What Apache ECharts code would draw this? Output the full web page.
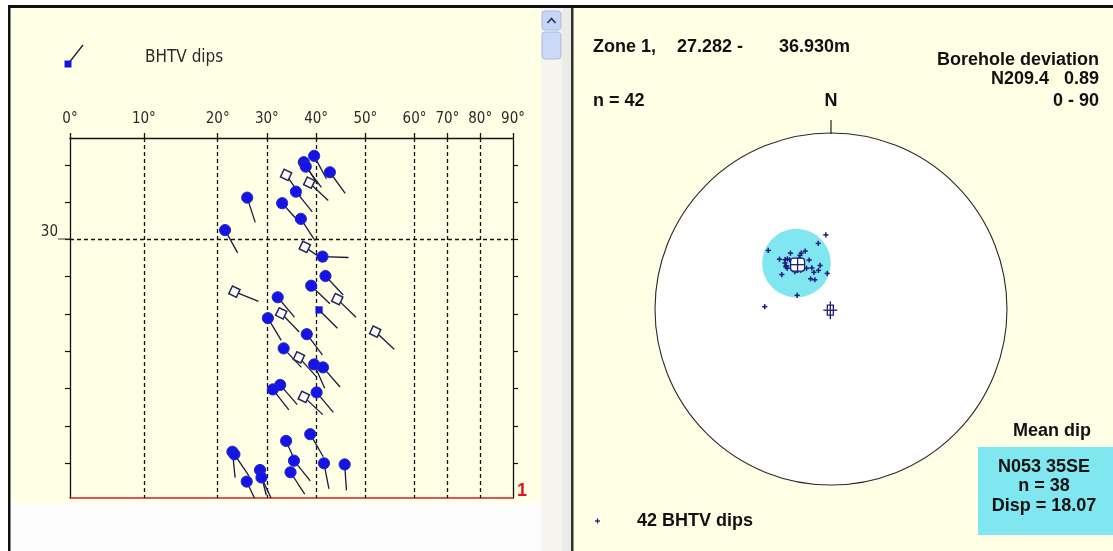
<!DOCTYPE html>
<html>
<head>
<meta charset="utf-8">
<script src="https://cdn.jsdelivr.net/npm/echarts@6/dist/echarts.min.js"></script>
<style>
  html, body { margin: 0; padding: 0; background: #ffffff; }
  #main { width: 1113px; height: 551px; }
</style>
</head>
<body>
<div id="main"></div>
<script>
// Zone 1 BHTV picks: depth (m), dip (deg), dip azimuth (deg), pick type
const depths = [
  27.76, 27.93, 28.05, 28.20, 28.27, 28.48, 28.72, 28.88, 29.03, 29.45,
  29.75, 30.20, 30.46, 30.98, 31.24, 31.40, 31.55, 31.60, 31.89, 31.98,
  32.11, 32.47, 32.54, 32.92, 33.16, 33.35, 33.43, 33.90, 34.02, 34.10,
  34.22, 35.22, 35.40, 35.69, 35.76, 35.93, 36.00, 36.03, 36.18, 36.24,
  36.38, 36.49
];
const dips = [
  39.6, 37.5, 37.9, 42.8, 33.9, 38.6, 35.9, 26.0, 33.1, 36.9,
  21.5, 37.7, 41.3, 41.9, 39.0, 23.4, 32.2, 44.3, 40.6, 32.9,
  30.2, 52.0, 38.1, 33.4, 36.5, 39.6, 41.4, 32.7, 31.2, 40.1,
  37.5, 38.8, 33.9, 23.0, 23.4, 35.5, 41.6, 45.8, 28.6, 34.8,
  28.9, 25.9
];
const dipAzimuths = [
  152, 148, 143, 144, 145, 133, 141, 162, 138, 147,
  151, 125, 92, 137, 134, 112, 140, 134, 135, 136,
  149, 133, 143, 137, 138, 156, 139, 139, 142, 140,
  133, 150, 156, 174, 146, 141, 169, 176, 166, 147,
  155, 155
];
// 0 = solid pick, 1 = open pick, 2 = square pick
const pickTypes = [
  0, 0, 0, 0, 1, 1, 0, 0, 0, 0,
  0, 1, 0, 0, 0, 1, 0, 1, 2, 1,
  0, 1, 0, 0, 1, 0, 0, 0, 0, 0,
  1, 0, 0, 0, 0, 0, 0, 0, 0, 0,
  0, 0
];

// Dip axis: every 10 deg step, with its place on the stretched dip scale
const dipTicks = [0, 10, 20, 30, 40, 50, 60, 70, 80, 90];
const dipTickLabels = ['0°', '10°', '20°', '30°', '40°', '50°', '60°', '70°', '80°', '90°'];
const dipScaleUnits = [0, 9, 18, 24, 30, 36, 42, 46, 50, 54];
const depthTicks = [28, 29, 30, 31, 32, 33, 34, 35, 36];
const depthLabels = [30];
const zoneTop = 27.282;
const zoneBottom = 36.930;

// Stereonet statistics
const meanStrike = 53;
const meanDip = 35;
const meanDipDirection = 143;
const boreholeAzimuth = 209.4;
const boreholeInclination = 0.89;
const coneAngle = 20;

const TAIL = 26;
const rad = d => d * Math.PI / 180;
const deg = r => r * 180 / Math.PI;

function dipToUnit(d) {
  const i = Math.max(0, Math.min(8, Math.floor(d / 10)));
  return dipScaleUnits[i] + (d - dipTicks[i]) / 10 * (dipScaleUnits[i + 1] - dipScaleUnits[i]);
}

// lower-hemisphere line -> [equal-angle radius, trend]
function lineVector(trend, plunge) {
  const t = rad(trend), p = rad(plunge);
  return [Math.cos(p) * Math.cos(t), Math.cos(p) * Math.sin(t), Math.sin(p)];
}
function toNet(v) {
  let [n, e, d] = v;
  if (d < 0) { n = -n; e = -e; d = -d; }
  const plunge = Math.asin(Math.min(1, d));
  const trend = (deg(Math.atan2(e, n)) + 360) % 360;
  return [Math.tan((Math.PI / 2 - plunge) / 2), trend];
}
function poleOf(dip, dipDir) {
  return toNet(lineVector((dipDir + 180) % 360, 90 - dip));
}
function smallCircle(axisV, alpha, steps) {
  const a = axisV;
  let u = [a[1], -a[0], 0];
  const lu = Math.hypot(u[0], u[1], u[2]) || 1;
  u = u.map(x => x / lu);
  const v = [a[1] * u[2] - a[2] * u[1], a[2] * u[0] - a[0] * u[2], a[0] * u[1] - a[1] * u[0]];
  const ca = Math.cos(rad(alpha)), sa = Math.sin(rad(alpha));
  const pts = [];
  for (let k = 0; k <= steps; k++) {
    const t = 2 * Math.PI * k / steps;
    pts.push(toNet([0, 1, 2].map(j => ca * a[j] + sa * (Math.cos(t) * u[j] + Math.sin(t) * v[j]))));
  }
  return pts;
}

const tadpoleData = depths.map((d, i) => [dipToUnit(dips[i]), d, dipAzimuths[i], pickTypes[i]]);
const poleData = depths.map((d, i) => poleOf(dips[i], dipAzimuths[i]));
const meanPole = poleOf(meanDip, meanDipDirection);
const conePoints = smallCircle(lineVector((meanDipDirection + 180) % 360, 90 - meanDip), coneAngle, 90);
const boreholePoint = toNet(lineVector(boreholeAzimuth, 90 - boreholeInclination));

const INK = '#1b1b3c';
const BLUE = '#1414e6';
const NAVY = '#1e1e7a';
const CREAM = '#ffffe6';
const CYAN = '#80e6f0';
const labelFont = '"Liberation Sans Narrow", "DejaVu Sans Condensed", "Liberation Sans", sans-serif';
const boldFont = '"Liberation Sans", Arial, sans-serif';

function renderTadpole(params, api) {
  const p = api.coord([api.value(0), api.value(1)]);
  const a = rad(api.value(2));
  const end = [p[0] + TAIL * Math.sin(a), p[1] - TAIL * Math.cos(a)];
  const kind = api.value(3);
  const children = [{
    type: 'line',
    shape: { x1: p[0], y1: p[1], x2: end[0], y2: end[1] },
    style: { stroke: INK, lineWidth: 1.3 }
  }];
  if (kind === 0) {
    children.push({ type: 'circle', shape: { cx: p[0], cy: p[1], r: 5.6 },
      style: { fill: BLUE, stroke: '#2828c0', lineWidth: 1 } });
  } else if (kind === 1) {
    children.push({ type: 'rect', x: p[0], y: p[1], rotation: -0.45,
      shape: { x: -4.2, y: -4.2, width: 8.4, height: 8.4 },
      style: { fill: '#ffffff', stroke: '#23235e', lineWidth: 1.5 } });
  } else {
    children.push({ type: 'rect', shape: { x: p[0] - 3.6, y: p[1] - 3.6, width: 7.2, height: 7.2 },
      style: { fill: BLUE } });
  }
  return { type: 'group', children };
}

function renderPlus(params, api) {
  const p = api.coord([api.value(0), api.value(1)]);
  const s = 2.6;
  return { type: 'group', children: [
    { type: 'line', shape: { x1: p[0] - s, y1: p[1], x2: p[0] + s, y2: p[1] }, style: { stroke: NAVY, lineWidth: 1.5 } },
    { type: 'line', shape: { x1: p[0], y1: p[1] - s, x2: p[0], y2: p[1] + s }, style: { stroke: NAVY, lineWidth: 1.5 } }
  ] };
}

function renderCone(params, api) {
  const pts = conePoints.map(q => api.coord(q));
  return { type: 'polygon', shape: { points: pts }, style: { fill: CYAN } };
}

function renderMean(params, api) {
  const p = api.coord([api.value(0), api.value(1)]);
  return { type: 'group', children: [
    { type: 'rect', shape: { x: p[0] - 7, y: p[1] - 6.5, width: 14, height: 13, r: 3 },
      style: { fill: '#ffffff', stroke: NAVY, lineWidth: 1.3 } },
    { type: 'line', shape: { x1: p[0] - 7, y1: p[1], x2: p[0] + 7, y2: p[1] }, style: { stroke: NAVY, lineWidth: 1.3 } },
    { type: 'line', shape: { x1: p[0], y1: p[1] - 6.5, x2: p[0], y2: p[1] + 6.5 }, style: { stroke: NAVY, lineWidth: 1.3 } }
  ] };
}

function renderBorehole(params, api) {
  const p = api.coord([api.value(0), api.value(1)]);
  return { type: 'group', children: [
    { type: 'line', shape: { x1: p[0] - 7, y1: p[1], x2: p[0] + 7, y2: p[1] }, style: { stroke: NAVY, lineWidth: 1.3 } },
    { type: 'line', shape: { x1: p[0], y1: p[1] - 9, x2: p[0], y2: p[1] + 9 }, style: { stroke: NAVY, lineWidth: 1.3 } },
    { type: 'rect', shape: { x: p[0] - 3, y: p[1] - 5, width: 6, height: 10 }, style: { fill: 'none', stroke: NAVY, lineWidth: 1.3 } }
  ] };
}

function txt(text, x, y, font, opts) {
  return Object.assign({ type: 'text', z: 5, style: Object.assign({
    text, x, y, font, fill: '#111111', textAlign: 'left', textVerticalAlign: 'middle'
  }, opts || {}) });
}
const B18 = 'bold 18px ' + boldFont;

const chart = echarts.init(document.getElementById('main'), null, { renderer: 'canvas' });

chart.setOption({
  animation: false,
  backgroundColor: '#ffffff',
  graphic: [
    // window frame and panel backgrounds
    { type: 'rect', z: -10, shape: { x: 10.5, y: 8, width: 531, height: 495 }, style: { fill: CREAM } },
    { type: 'rect', z: -10, shape: { x: 10.5, y: 503, width: 531, height: 48 }, style: { fill: '#fcfcfc' } },
    { type: 'rect', z: -10, shape: { x: 541, y: 8, width: 21, height: 543 }, style: { fill: '#f5f4ef' } },
    { type: 'rect', z: -9, shape: { x: 542, y: 11, width: 19, height: 19, r: 3 }, style: { fill: '#c6d5f4', stroke: '#a9bce4', lineWidth: 1 } },
    { type: 'polyline', z: -8, shape: { points: [[547.5, 23], [551.5, 18.5], [555.5, 23]] }, style: { stroke: '#2b3a66', lineWidth: 1.8, fill: 'none' } },
    { type: 'rect', z: -9, shape: { x: 542, y: 32, width: 19, height: 27, r: 3 }, style: { fill: '#cbd9f6', stroke: '#a9bce4', lineWidth: 1 } },
    { type: 'rect', z: -10, shape: { x: 562, y: 8, width: 9, height: 543 }, style: { fill: '#ecece6' } },
    { type: 'rect', z: -10, shape: { x: 573.5, y: 8, width: 540, height: 543 }, style: { fill: CREAM } },
    { type: 'rect', z: -9, shape: { x: 571, y: 8, width: 2.5, height: 543 }, style: { fill: '#2e2e2e' } },
    { type: 'rect', z: -9, shape: { x: 8, y: 5, width: 1105, height: 3 }, style: { fill: '#111111' } },
    { type: 'rect', z: -9, shape: { x: 8, y: 5, width: 2.5, height: 546 }, style: { fill: '#111111' } },

    // tadpole legend
    { type: 'line', z: 5, shape: { x1: 68, y1: 64, x2: 83, y2: 45 }, style: { stroke: INK, lineWidth: 1.3 } },
    { type: 'rect', z: 6, shape: { x: 64.5, y: 60.5, width: 7, height: 7 }, style: { fill: BLUE } },
    txt('BHTV dips', 145, 58, '17px ' + labelFont, { fill: '#2a2a2a' }),
    txt('1', 517, 491, 'bold 18px ' + boldFont, { fill: '#e0141e' }),
    { type: 'line', z: 5, shape: { x1: 58, y1: 239, x2: 70, y2: 239 }, style: { stroke: '#333333', lineWidth: 1 } },

    // stereonet header
    txt('Zone 1,', 593, 47, B18),
    txt('27.282 -', 677, 47, B18),
    txt('36.930m', 779, 47, B18),
    txt('Borehole deviation', 1099, 60, B18, { textAlign: 'right' }),
    txt('N209.4   0.89', 1099, 79, B18, { textAlign: 'right' }),
    txt('n = 42', 593, 101, B18),
    txt('0 - 90', 1099, 101, B18, { textAlign: 'right' }),
    txt('N', 831, 101, B18, { textAlign: 'center' }),
    { type: 'line', z: 5, shape: { x1: 831, y1: 120, x2: 831, y2: 134 }, style: { stroke: '#222222', lineWidth: 1.2 } },

    // mean dip box
    txt('Mean dip', 1052, 431, B18, { textAlign: 'center' }),
    { type: 'rect', z: 4, shape: { x: 978, y: 447, width: 135, height: 88 }, style: { fill: CYAN } },
    txt('N053 35SE', 1044, 467, B18, { textAlign: 'center' }),
    txt('n = 38', 1044, 486, B18, { textAlign: 'center' }),
    txt('Disp = 18.07', 1044, 506, B18, { textAlign: 'center' }),

    // stereonet legend
    { type: 'line', z: 5, shape: { x1: 595, y1: 521, x2: 600, y2: 521 }, style: { stroke: NAVY, lineWidth: 1.3 } },
    { type: 'line', z: 5, shape: { x1: 597.5, y1: 518.5, x2: 597.5, y2: 523.5 }, style: { stroke: NAVY, lineWidth: 1.3 } },
    txt('42 BHTV dips', 637, 521, B18)
  ],
  grid: {
    left: 70, top: 138, width: 443, height: 360,
    containLabel: false, outerBoundsMode: 'none', show: false
  },
  xAxis: [
    {
      type: 'value', position: 'top', min: 0, max: dipScaleUnits[dipScaleUnits.length - 1],
      axisLine: { show: true, onZero: false, lineStyle: { color: '#111111', width: 1.3 } },
      axisTick: { show: true, inside: false, length: 5, customValues: dipScaleUnits, lineStyle: { color: '#111111', width: 1.3 } },
      axisLabel: {
        show: true, customValues: dipScaleUnits, margin: 11,
        color: '#2a2a2a', fontSize: 15, fontFamily: labelFont,
        formatter: v => dipTickLabels[dipScaleUnits.indexOf(Math.round(v))] || ''
      },
      splitLine: { show: false }
    },
    {
      type: 'value', position: 'bottom', min: 0, max: dipScaleUnits[dipScaleUnits.length - 1],
      axisLine: { show: true, onZero: false, lineStyle: { color: '#d42020', width: 1.6 } },
      axisTick: { show: false }, axisLabel: { show: false }, splitLine: { show: false }
    }
  ],
  yAxis: [
    {
      type: 'value', position: 'left', inverse: true, min: zoneTop, max: zoneBottom,
      axisLine: { show: true, onZero: false, lineStyle: { color: '#111111', width: 1.3 } },
      axisTick: { show: true, inside: false, length: 5, customValues: depthTicks, lineStyle: { color: '#111111', width: 1.2 } },
      axisLabel: { show: true, customValues: depthLabels, margin: 12, color: '#2a2a2a', fontSize: 15, fontFamily: labelFont,
        verticalAlign: 'bottom', formatter: v => String(Math.round(v)) },
      splitLine: { show: false }
    },
    {
      type: 'value', position: 'right', inverse: true, min: zoneTop, max: zoneBottom,
      axisLine: { show: true, onZero: false, lineStyle: { color: '#111111', width: 1.3 } },
      axisTick: { show: true, inside: false, length: 5, customValues: depthTicks, lineStyle: { color: '#111111', width: 1.2 } },
      axisLabel: { show: false }, splitLine: { show: false }
    }
  ],
  polar: { center: [831, 309], radius: 176 },
  angleAxis: {
    type: 'value', min: 0, max: 360, interval: 90, startAngle: 90, clockwise: true,
    axisLine: { show: true, lineStyle: { color: '#2a2a2a', width: 1.1 } },
    axisTick: { show: false }, axisLabel: { show: false }, splitLine: { show: false }
  },
  radiusAxis: {
    type: 'value', min: 0, max: 1, interval: 1,
    axisLine: { show: false }, axisTick: { show: false }, axisLabel: { show: false },
    splitLine: { show: false },
    splitArea: { show: true, areaStyle: { color: ['#ffffff'] } }
  },
  series: [
    {
      // grid lines of the tadpole track
      type: 'line', xAxisIndex: 0, yAxisIndex: 0, data: [], silent: true,
      markLine: {
        silent: true, symbol: ['none', 'none'], label: { show: false },
        lineStyle: { color: '#111111', type: [4, 3], width: 1.3 },
        data: dipScaleUnits.slice(1, -1).map(u => ({ xAxis: u }))
          .concat(depthLabels.map(d => ({ yAxis: d })))
      }
    },
    {
      type: 'custom', name: 'BHTV dips', xAxisIndex: 0, yAxisIndex: 0,
      coordinateSystem: 'cartesian2d', clip: true, z: 5,
      renderItem: renderTadpole, data: tadpoleData, encode: { x: 0, y: 1 }
    },
    {
      type: 'custom', coordinateSystem: 'polar', z: 3, silent: true,
      renderItem: renderCone, data: [meanPole]
    },
    {
      type: 'custom', coordinateSystem: 'polar', z: 5,
      renderItem: renderPlus, data: poleData
    },
    {
      type: 'custom', coordinateSystem: 'polar', z: 6,
      renderItem: renderMean, data: [meanPole]
    },
    {
      type: 'custom', coordinateSystem: 'polar', z: 6,
      renderItem: renderBorehole, data: [boreholePoint]
    }
  ]
});
</script>
</body>
</html>
